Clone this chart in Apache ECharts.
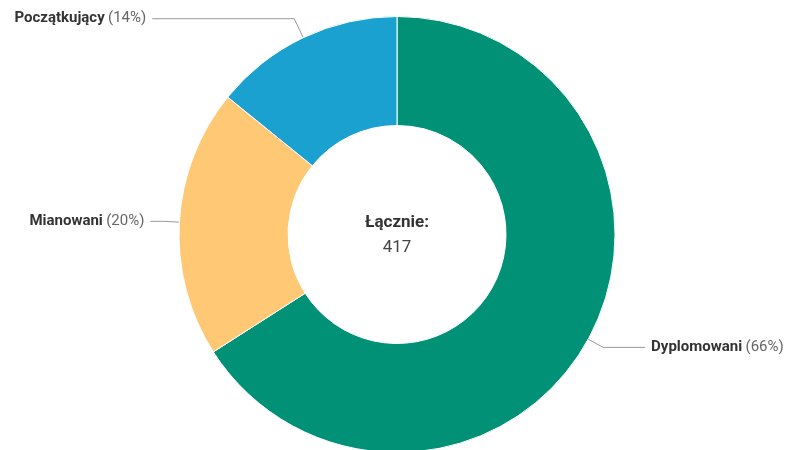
<!DOCTYPE html>
<html>
<head>
<meta charset="utf-8">
<script src="https://cdn.jsdelivr.net/npm/echarts@6/dist/echarts.min.js"></script>
<style>html,body{margin:0;padding:0;background:#fff}#c{width:785px;height:450px}</style>
</head>
<body>
<div id="c"></div>
<script>
var categories = ['Dyplomowani', 'Mianowani', 'Początkujący'];
var values = [275, 83, 59];
var colors = ['#009176', '#FFC875', '#1BA1CF'];
var lineLen = [17, 15, 21];
var lineLen2 = [42, 14, 142];
var total = values.reduce(function (a, b) { return a + b; }, 0);

var chart = echarts.init(document.getElementById('c'), null, { renderer: 'canvas' });
var data = categories.map(function (n, i) {
  return {
    name: n, value: values[i],
    itemStyle: { color: colors[i] },
    labelLine: { length: lineLen[i], length2: lineLen2[i] }
  };
});
chart.setOption({
  animation: false,
  title: {
    text: '{a|Łącznie:}\n{b|' + total + '}',
    left: 392, top: 205, textAlign: 'center',
    textStyle: {
      fontWeight: 'normal',
      rich: {
        a: { fontFamily: 'Roboto', fontWeight: 'bold', fontSize: 17, color: '#333', lineHeight: 25, align: 'center' },
        b: { fontFamily: 'Roboto', fontWeight: 'normal', fontSize: 17, color: '#444', lineHeight: 25, align: 'center' }
      }
    }
  },
  series: [{
    type: 'pie',
    center: [397, 234.5],
    radius: [109, 218],
    startAngle: 90,
    clockwise: true,
    avoidLabelOverlap: false,
    itemStyle: { borderColor: '#fff', borderWidth: 1 },
    label: {
      show: true,
      position: 'outside',
      distanceToLabelLine: 6,
      formatter: function (p) { return '{n|' + p.name + '} {p|(' + Math.round(p.percent) + '%)}'; },
      rich: {
        n: { fontFamily: 'Roboto', fontWeight: 'bold', fontSize: 15, color: '#333' },
        p: { fontFamily: 'Roboto', fontSize: 15, color: '#666' }
      }
    },
    labelLine: { show: true, lineStyle: { color: '#999', width: 1 } },
    emphasis: { disabled: true },
    data: data
  }]
});
</script>
</body>
</html>
